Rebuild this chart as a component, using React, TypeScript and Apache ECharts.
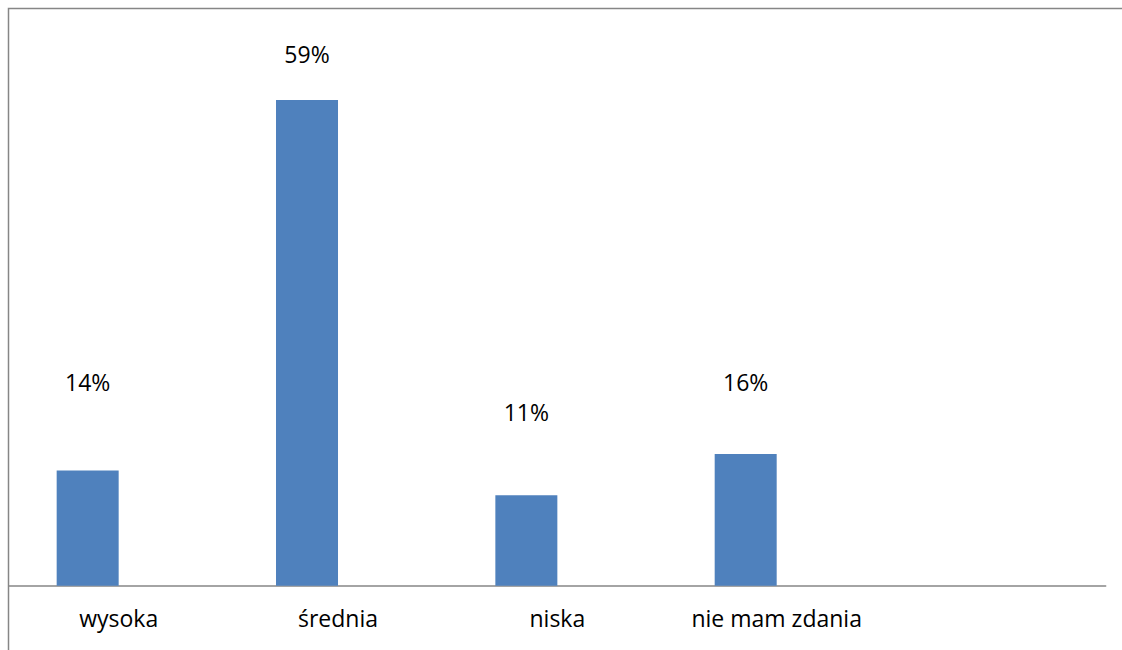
import React, { useEffect, useRef } from "react";
import * as echarts from "echarts";

const categories = ["wysoka", "średnia", "niska", "nie mam zdania", ""];
const values = [14, 59, 11, 16, null];
const emptySeries = [null, null, null, null, null];
const labelOffsets = [-72, -30, -67, -56, 0];

export default function App() {
  const ref = useRef<HTMLDivElement>(null);
  useEffect(() => {
    document.body.style.margin = "0";
    const chart = echarts.init(ref.current!, null, { renderer: "svg" });
    chart.setOption({
      animation: false,
      backgroundColor: "#ffffff",
      textStyle: { fontFamily: "Open Sans" },
      grid: { left: 9, right: 16.3, top: 9.4, bottom: 64.3, containLabel: false },
      graphic: [
        {
          type: "rect",
          shape: { x: 8.5, y: 8.5, width: 1200, height: 700 },
          style: { fill: "none", stroke: "#868686", lineWidth: 1.5 },
          silent: true,
          z: -1,
        },
      ],
      xAxis: {
        type: "category",
        data: categories,
        axisLine: { show: true, lineStyle: { color: "#868686", width: 1.5 } },
        axisTick: { show: false },
        axisLabel: { color: "#000000", fontSize: 23, fontFamily: "Open Sans", margin: 21, interval: 0 },
        splitLine: { show: false },
      },
      yAxis: {
        type: "value",
        min: 0,
        max: 70,
        show: false,
        splitLine: { show: false },
      },
      series: [
        {
          type: "bar",
          data: values.map((v, i) => ({
            value: v,
            label: { offset: [0, labelOffsets[i]] },
          })),
          barWidth: 62,
          barGap: "0%",
          itemStyle: { color: "#4F81BD" },
          label: {
            show: true,
            position: "top",
            distance: 5,
            color: "#000000",
            fontSize: 23,
            lineHeight: 22,
            fontFamily: "Open Sans",
            formatter: (p: any) => (p.value == null ? "" : p.value + "%"),
          },
        },
        {
          type: "bar",
          data: emptySeries,
          barWidth: 62,
          barGap: "0%",
          itemStyle: { color: "#C0504D" },
        },
      ],
    });
    return () => chart.dispose();
  }, []);
  return <div ref={ref} style={{ width: 1122, height: 650 }} />;
}
